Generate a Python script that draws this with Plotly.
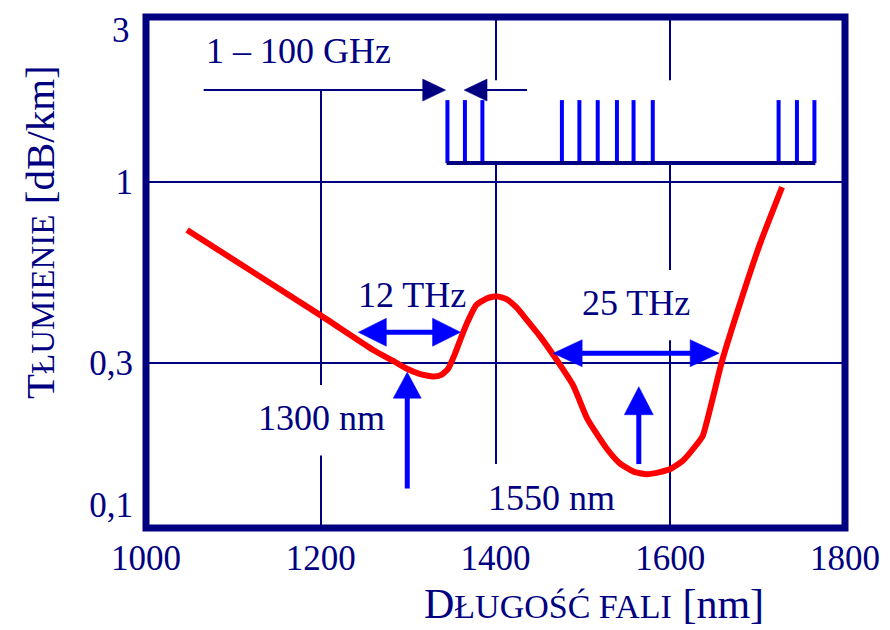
import math
import plotly.graph_objects as go

# ---------------- data ----------------
wavelength_nm = [1047, 1199, 1260, 1283, 1298, 1313, 1329, 1338, 1346, 1353,
                 1361, 1369, 1378, 1390, 1401, 1413, 1424, 1436, 1451, 1470, 1489,
                 1505, 1527, 1542, 1558, 1573, 1588, 1600, 1615, 1630, 1637, 1659,
                 1680, 1703, 1728]
attenuation_db_km = [0.727, 0.413, 0.327, 0.304, 0.289, 0.279, 0.274, 0.277, 0.289, 0.316,
                     0.357, 0.399, 0.441, 0.461, 0.468, 0.458, 0.434, 0.399, 0.358, 0.306, 0.258,
                     0.207, 0.170, 0.154, 0.1455, 0.143, 0.145, 0.148, 0.157, 0.174, 0.184, 0.302,
                     0.447, 0.666, 0.967]

x_ticks = [1000, 1200, 1400, 1600, 1800]
x_tick_labels = ["1000", "1200", "1400", "1600", "1800"]
y_ticks = [0.1, 0.3, 1, 3]
y_tick_labels = ["0,1<br> ", "0,3", "1", ""]
y_top_label = "3"            # drawn just below the top edge so it is not clipped

# channel comb (1 - 100 GHz spacing)
comb_channels_nm = [1345, 1365, 1385, 1476, 1496, 1517, 1539, 1558, 1580, 1724, 1745, 1765]
comb_top = 1.726
comb_base = 1.135

# arrows: (x0, y0) tail -> (x1, y1) tip
arrow_1300 = dict(x0=1299, y0=0.130, x1=1299, y1=0.282)
arrow_1550 = dict(x0=1564, y0=0.153, x1=1564, y1=0.256)
band_12thz = dict(x0=1243, x1=1360, y=0.368)
band_25thz = dict(x0=1466, x1=1656, y=0.320)
ghz_arrow_left = dict(x0=1066, y0=1.845, x1=1343, y1=1.845)
ghz_arrow_right = dict(x0=1436, y0=1.845, x1=1364, y1=1.845)

labels = [
    ("1 – 100 GHz", 1175, 2.39),
    ("12 THz", 1304, 0.471),
    ("25 THz", 1561, 0.447),
    ("1300 nm", 1201, 0.208),
    ("1550 nm", 1464, 0.122),
]

# ---------------- styles / geometry ----------------
NAVY = "#000080"
BLUE = "#0000FF"
RED = "#FF0000"
FONT = "Liberation Serif"
OFF = 8                      # page body margin of the browser
W, H = 890 - OFF, 630 - OFF
ML, MR, MT, MB = 146 - OFF, 45, 17 - OFF, 102
PW, PH = W - ML - MR, H - MT - MB
XR = [1000, 1800]
YR = [-1.0002, math.log10(3) + 0.0002]


def x2px(x):
    return ML + (x - XR[0]) / (XR[1] - XR[0]) * PW


def px2x(p):
    return XR[0] + (p - ML) / PW * (XR[1] - XR[0])


def y2px(v):
    return MT + (YR[1] - math.log10(v)) / (YR[1] - YR[0]) * PH


def px2y(p):
    return 10 ** (YR[1] - (p - MT) / PH * (YR[1] - YR[0]))


def head(xt, yt, xf, yf, length, width):
    """triangle at tip (xt,yt) pointing away from (xf,yf)"""
    tx, ty = x2px(xt), y2px(yt)
    fx, fy = x2px(xf), y2px(yf)
    dx, dy = tx - fx, ty - fy
    n = math.hypot(dx, dy)
    dx, dy = dx / n, dy / n
    bx, by = tx - dx * length, ty - dy * length
    nx, ny = -dy, dx
    pts = [(tx, ty), (bx + nx * width / 2, by + ny * width / 2),
           (bx - nx * width / 2, by - ny * width / 2), (tx, ty)]
    xs = [px2x(p[0]) for p in pts]
    ys = [px2y(p[1]) for p in pts]
    return xs, ys, (px2x(bx + dx * 1), px2y(by + dy * 1))


fig = go.Figure()

# red attenuation curve
fig.add_trace(go.Scatter(x=wavelength_nm, y=attenuation_db_km, mode="lines",
                         line=dict(color=RED, width=6, shape="spline", smoothing=0.5),
                         hoverinfo="skip", showlegend=False))

# comb
cx, cy = [], []
for c in comb_channels_nm:
    cx += [c, c, None]
    cy += [comb_base, comb_top, None]
fig.add_trace(go.Scatter(x=cx, y=cy, mode="lines", line=dict(color=BLUE, width=4),
                         hoverinfo="skip", showlegend=False))
fig.add_trace(go.Scatter(x=[comb_channels_nm[0] - 1, comb_channels_nm[-1] + 1], y=[comb_base, comb_base],
                         mode="lines", line=dict(color=NAVY, width=4),
                         hoverinfo="skip", showlegend=False))


def add_arrow(x0, y0, x1, y1, color, lw, hl, hw, double=False):
    hxs, hys = [], []
    sx0, sy0 = x0, y0
    xs, ys, base = head(x1, y1, x0, y0, hl, hw)
    hxs += xs + [None]
    hys += ys + [None]
    sx1, sy1 = base
    if double:
        xs, ys, base = head(x0, y0, x1, y1, hl, hw)
        hxs += xs + [None]
        hys += ys + [None]
        sx0, sy0 = base
    fig.add_trace(go.Scatter(x=[sx0, sx1], y=[sy0, sy1], mode="lines",
                             line=dict(color=color, width=lw), hoverinfo="skip", showlegend=False))
    fig.add_trace(go.Scatter(x=hxs, y=hys, mode="lines", fill="toself", fillcolor=color,
                             line=dict(color=color, width=0.5), hoverinfo="skip", showlegend=False))


add_arrow(arrow_1300["x0"], arrow_1300["y0"], arrow_1300["x1"], arrow_1300["y1"], BLUE, 5, 26, 28)
add_arrow(arrow_1550["x0"], arrow_1550["y0"], arrow_1550["x1"], arrow_1550["y1"], BLUE, 5, 28, 29)
add_arrow(band_12thz["x0"], band_12thz["y"], band_12thz["x1"], band_12thz["y"], BLUE, 5, 28, 28, double=True)
add_arrow(band_25thz["x0"], band_25thz["y"], band_25thz["x1"], band_25thz["y"], BLUE, 5, 29, 27, double=True)
add_arrow(ghz_arrow_left["x0"], ghz_arrow_left["y0"], ghz_arrow_left["x1"], ghz_arrow_left["y1"], NAVY, 2, 23, 22)
add_arrow(ghz_arrow_right["x0"], ghz_arrow_right["y0"], ghz_arrow_right["x1"], ghz_arrow_right["y1"], NAVY, 2, 23, 22)

# white masks hiding grid lines behind labels (between grid and traces)
masks = [
    (1056, 1300, 1.85, 3.2),
    (1332, 1790, 1.135, 1.97),
    (1490, 1640, 0.349, 0.557),
    (1124, 1279, 0.162, 0.259),
    (1388, 1542, 0.09, 0.153),
]
shapes = []
for (xa, xb, ya, yb) in masks:
    shapes.append(dict(type="rect", xref="x", yref="y", x0=xa, x1=xb, y0=ya, y1=yb,
                       fillcolor="white", line=dict(width=0), layer="between"))
# frame
shapes.append(dict(type="rect", xref="paper", yref="paper", x0=0, x1=1, y0=0, y1=1,
                   line=dict(color=NAVY, width=7), layer="above"))

annotations = []
for t, x, y in labels:
    annotations.append(dict(text=t, x=x, y=math.log10(y), xref="x", yref="y", showarrow=False,
                            font=dict(family=FONT, size=36, color=NAVY),
                            xanchor="center", yanchor="middle"))

# top y tick label, kept fully inside the page
annotations.append(dict(
    text=y_top_label, x=(121 - OFF - ML) / PW, y=1 + (MT - 1) / PH,
    xref="paper", yref="paper", showarrow=False,
    font=dict(family=FONT, size=35, color=NAVY), xanchor="center", yanchor="top"))

# axis titles (screen centres: x title ~ (594, 604), y title ~ (40, 232))
annotations.append(dict(
    text="D<span style='font-size:34px'>ŁUGOŚĆ FALI</span> [nm]",
    x=(594 - OFF - ML) / PW, y=(H - MB - (604 - OFF)) / PH, xref="paper", yref="paper", showarrow=False,
    font=dict(family=FONT, size=42, color=NAVY), xanchor="center", yanchor="middle"))
annotations.append(dict(
    text="T<span style='font-size:33px'>ŁUMIENIE</span> [dB/km]",
    x=(40 - OFF - ML) / PW, y=(H - MB - (232 - OFF)) / PH, xref="paper", yref="paper", showarrow=False,
    textangle=-90,
    font=dict(family=FONT, size=41, color=NAVY), xanchor="center", yanchor="middle"))

fig.update_layout(
    width=W, height=H,
    margin=dict(l=ML, r=MR, t=MT, b=MB, autoexpand=False),
    paper_bgcolor="white", plot_bgcolor="white",
    shapes=shapes, annotations=annotations, showlegend=False,
    xaxis=dict(range=XR, tickvals=x_ticks, ticktext=x_tick_labels, showgrid=True, automargin=False,
               gridcolor=NAVY, gridwidth=2, zeroline=False, showline=False, ticks="",
               tickfont=dict(family=FONT, size=35, color=NAVY), ticklabelstandoff=6,
               ticklabeloverflow="allow"),
    yaxis=dict(type="log", range=YR, tickvals=y_ticks, ticktext=y_tick_labels, showgrid=True,
               automargin=False,
               gridcolor=NAVY, gridwidth=2, zeroline=False, showline=False, ticks="",
               tickfont=dict(family=FONT, size=35, color=NAVY), ticklabelstandoff=12,
               ticklabelshift=0, ticklabeloverflow="allow"),
)

fig.write_html("out.html")
